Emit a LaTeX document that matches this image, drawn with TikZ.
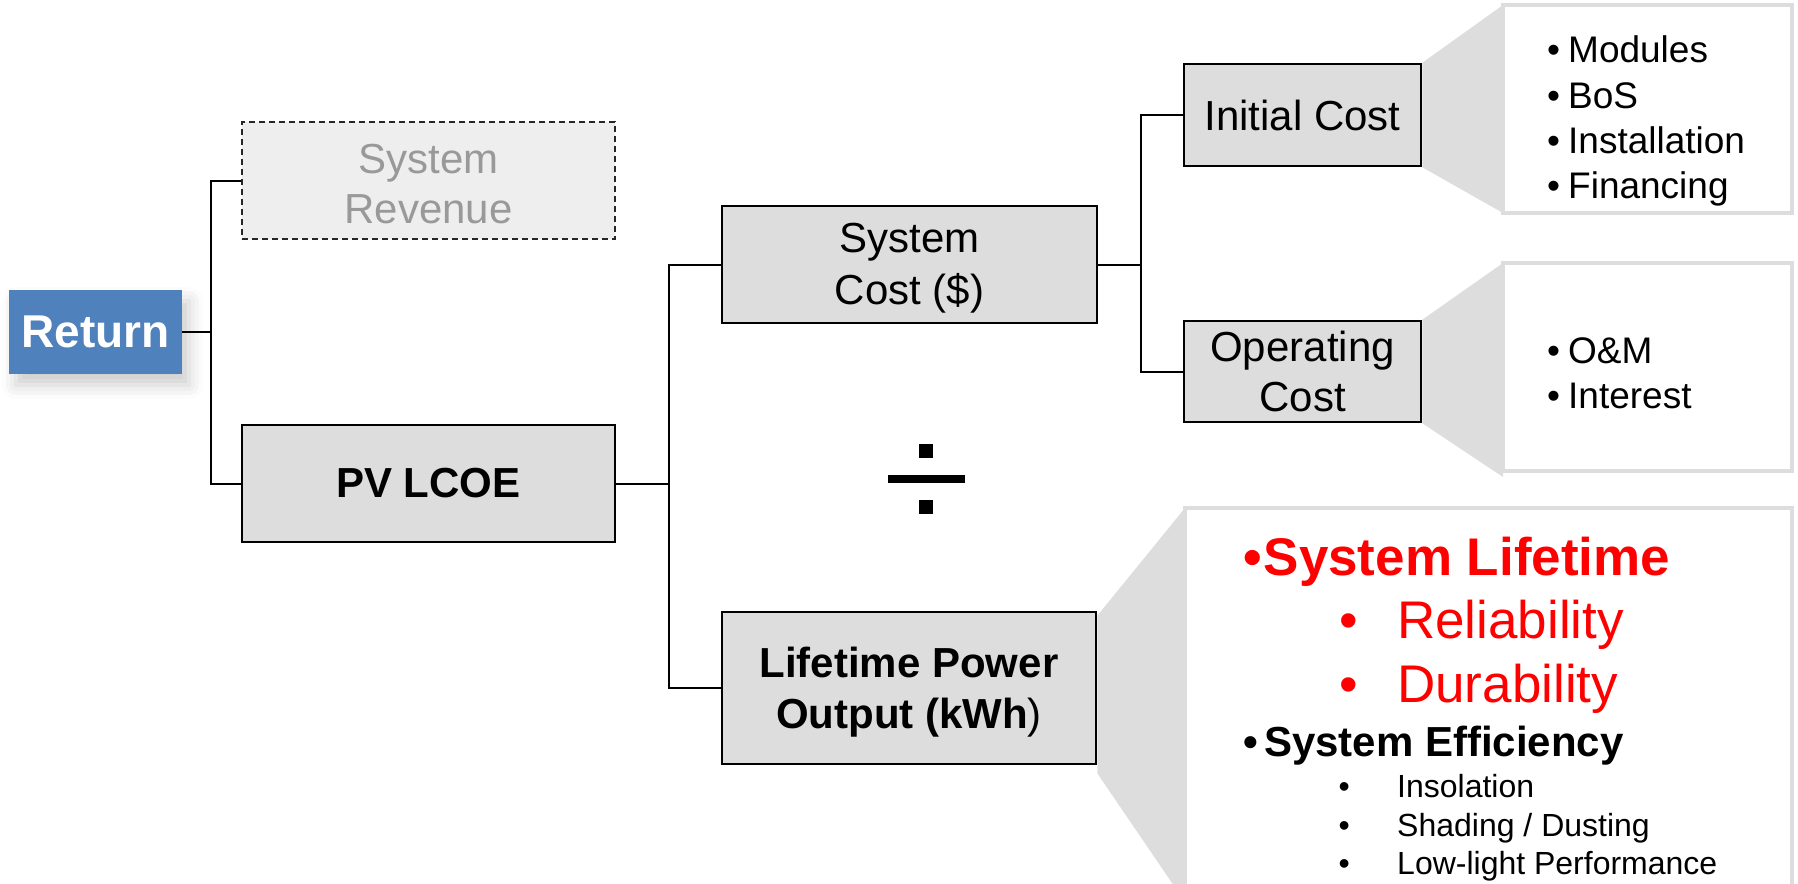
\documentclass[tikz,border=0pt]{standalone}
\usepackage{fontspec}
\setmainfont{Liberation Sans}
\usetikzlibrary{shadows.blur,calc}
\definecolor{retblue}{HTML}{4F81BD}
\definecolor{boxgray}{HTML}{DDDDDD}
\definecolor{revgray}{HTML}{EEEEEE}
\definecolor{revtext}{HTML}{999999}
\definecolor{pptred}{HTML}{FF0000}
\newcommand{\fsz}[2]{\fontsize{#1}{#2}\selectfont}
\begin{document}
\begin{tikzpicture}[x=1pt,y=-1pt,
  graybox/.style={draw=black, line width=2.5pt, fill=boxgray, inner sep=0pt, align=center, font=\fsz{42}{50}},
  listbox/.style={draw=boxgray, line width=4pt, fill=white, inner sep=0pt},
  callout/.style={fill=boxgray},
  conn/.style={line width=2pt},
  item/.style={anchor=base west, inner sep=0pt},
]
\useasboundingbox (0,0) rectangle (1798,883);

% list boxes (positions)
\node[listbox, minimum width=285pt, minimum height=204pt] (initlist) at (1647.5,109) {};
\node[listbox, minimum width=285pt, minimum height=204pt] (operlist) at (1647.5,367) {};
\node[listbox, minimum width=603pt, minimum height=390pt] (lifelist) at (1488.5,705) {};

% boxes
\node[fill=retblue, minimum width=173pt, minimum height=84pt, inner sep=0pt, text=white, font=\fsz{46}{50}\bfseries,
  blur shadow={shadow xshift=7pt, shadow yshift=-11pt, shadow blur radius=14pt, shadow opacity=20}] (ret) at (95.5,332) {Return};
\node[graybox, draw=black!85, dashed, dash pattern=on 6pt off 4pt, line width=2pt, fill=revgray, text=revtext,
  minimum width=373pt, minimum height=117pt] (rev) at (428.5,180.5) {\rule{0pt}{36pt}System\\Revenue};
\node[graybox, minimum width=373pt, minimum height=117pt, font=\fsz{42}{50}\bfseries] (lcoe) at (428.5,483.5) {PV LCOE};
\node[graybox, minimum width=375pt, minimum height=117pt, font=\fsz{42}{52}] (syscost) at (909.5,264.5) {System\\Cost \smash{(\$)}};
\node[graybox, minimum width=237pt, minimum height=102pt] (init) at (1302.5,115) {Initial Cost};
\node[graybox, minimum width=237pt, minimum height=101pt] (oper) at (1302.5,371.5) {Operating\\Cost};
\node[graybox, minimum width=374pt, minimum height=152pt, font=\fsz{42}{51}] (life) at (909,688) {{\bfseries Lifetime Power}\\\smash{\textbf{Output (kWh})}};

% callout wedges
\fill[callout] (init.north east) -- (initlist.north west) -- (initlist.south west) -- (init.south east) -- cycle;
\fill[callout] (oper.north east) -- (operlist.north west) -- ($(operlist.south west)+(0,6)$) -- (oper.south east) -- cycle;
\fill[callout] ($(life.north east)+(0,5)$) -- (lifelist.north west) -- (lifelist.south west) -- ($(life.south east)+(0,8)$) -- cycle;
% list boxes drawn over the wedges
\draw[draw=boxgray, line width=4pt, fill=white] (initlist.north west) rectangle (initlist.south east);
\draw[draw=boxgray, line width=4pt, fill=white] (operlist.north west) rectangle (operlist.south east);
\draw[draw=boxgray, line width=4pt, fill=white] (lifelist.north west) rectangle (lifelist.south east);

% connectors
\draw[conn] (ret.east) -- ++(29,0) |- (rev.west);
\draw[conn] (ret.east) -- ++(29,0) |- (lcoe.west);
\draw[conn] (lcoe.east) -- ++(53,0) |- (syscost.west);
\draw[conn] (lcoe.east) -- ++(53,0) |- (life.west);
\draw[conn] (syscost.east) -- ++(43,0) |- (init.west);
\draw[conn] (syscost.east) -- ++(43,0) |- (oper.west);

% divide sign
\fill (919,444) rectangle (933,458);
\fill (888,475) rectangle (965,483);
\fill (919,500) rectangle (933,514);

% initial / operating cost lists
\begin{scope}[font=\fsz{37}{45}]
\node[item] (m1) at (1547,63) {\makebox[21pt][l]{•}Modules};
\node[item] (m2) at (1547,108) {\makebox[21pt][l]{•}BoS};
\node[item] (m3) at (1547,153) {\makebox[21pt][l]{•}Installation};
\node[item] (m4) at (1547,198) {\makebox[21pt][l]{•}Financing};
\node[item] (o1) at (1547,363) {\makebox[21pt][l]{•}O\&M};
\node[item] (o2) at (1547,408) {\makebox[21pt][l]{•}Interest};
\end{scope}

% lifetime list
\node[item, text=pptred, font=\fsz{53}{60}\bfseries] (l1) at (1243,575) {\makebox[20.5pt][l]{•}System Lifetime};
\node[item, text=pptred, font=\fsz{53}{60}] (l2) at (1339,638) {\makebox[58pt][l]{•}Reliability};
\node[item, text=pptred, font=\fsz{53}{60}] (l3) at (1339,702) {\makebox[58pt][l]{•}Durability};
\node[item, font=\fsz{42}{50}\bfseries] (l4) at (1243,756) {\makebox[21pt][l]{•}System Efficiency};
\node[item, font=\fsz{32}{38}] (l5) at (1338.5,797) {\makebox[58.5pt][l]{•}Insolation};
\node[item, font=\fsz{32}{38}] (l6) at (1338.5,836) {\makebox[58.5pt][l]{•}Shading / Dusting};
\node[item, font=\fsz{32}{38}] (l7) at (1338.5,874) {\makebox[58.5pt][l]{•}Low-light Performance};
\end{tikzpicture}
\end{document}
